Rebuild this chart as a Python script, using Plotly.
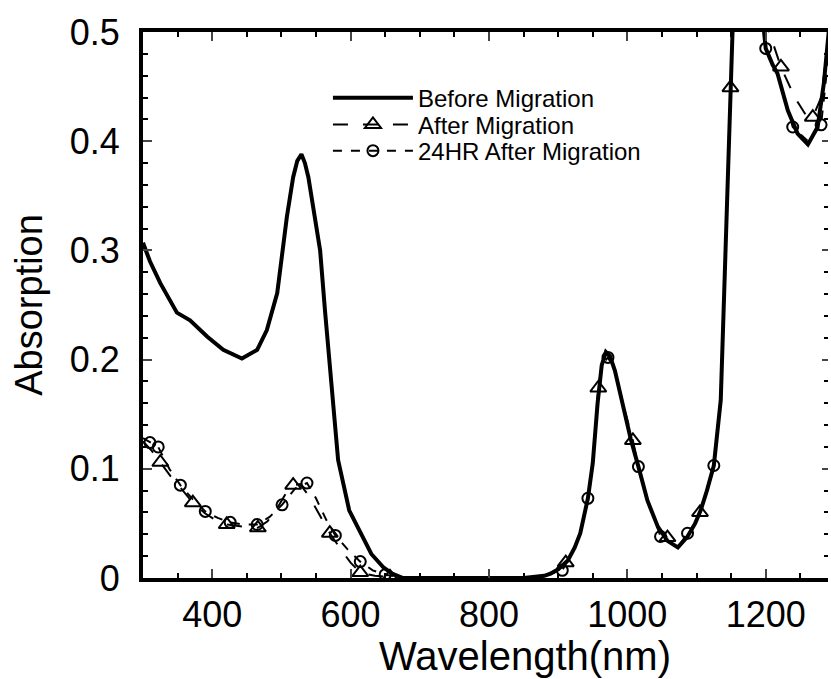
import plotly.graph_objects as go

# ---- data ----
before_x = [300, 310, 325, 349, 368, 393, 416, 443, 465, 479, 494, 508, 517, 523, 529, 534, 539, 546,
            556, 563, 574, 582, 598, 614, 630, 647, 660, 676, 700, 750, 800, 850, 880, 889, 900, 914,
            924, 932, 943, 950, 957, 963, 969, 975, 982, 990, 995, 1005, 1016, 1029, 1044, 1058, 1073,
            1087, 1098, 1106, 1115, 1125, 1135, 1144, 1149, 1152, 1162, 1175, 1188, 1197, 1200, 1210,
            1217, 1232, 1246, 1261, 1275, 1284, 1291]
before_y = [0.307, 0.290, 0.270, 0.243, 0.236, 0.221, 0.209, 0.201, 0.209, 0.227, 0.261, 0.331, 0.367,
            0.382, 0.388, 0.380, 0.367, 0.337, 0.300, 0.245, 0.169, 0.108, 0.062, 0.041, 0.022, 0.010,
            0.004, 0.0, 0.0, 0.0, 0.0, 0.0, 0.002, 0.004, 0.008, 0.016, 0.028, 0.041, 0.073, 0.105,
            0.160, 0.195, 0.207, 0.203, 0.190, 0.168, 0.154, 0.127, 0.102, 0.071, 0.047, 0.034, 0.028,
            0.038, 0.050, 0.062, 0.080, 0.103, 0.163, 0.346, 0.449, 0.500, 0.560, 0.580, 0.560, 0.500,
            0.485, 0.470, 0.462, 0.428, 0.407, 0.397, 0.413, 0.453, 0.500]

after_x = [300, 312, 325, 340, 355, 372, 390, 405, 421, 445, 466, 480, 495, 508, 517, 527, 540, 555,
           570, 585, 600, 614, 635, 657, 680, 750, 850, 880, 900, 911, 924, 932, 943, 950, 958, 963,
           969, 975, 982, 990, 1008, 1016, 1029, 1044, 1058, 1073, 1087, 1098, 1105, 1115, 1125, 1135,
           1144, 1149, 1152, 1162, 1175, 1190, 1205, 1222, 1242, 1258, 1268, 1280, 1292]
after_y = [0.125, 0.117, 0.106, 0.093, 0.082, 0.069, 0.059, 0.053, 0.049, 0.047, 0.046, 0.052, 0.065,
           0.079, 0.085, 0.086, 0.075, 0.058, 0.041, 0.027, 0.014, 0.005, 0.002, 0.001, 0.0, 0.0, 0.0,
           0.002, 0.008, 0.014, 0.028, 0.041, 0.073, 0.105, 0.174, 0.195, 0.207, 0.203, 0.190, 0.168,
           0.126, 0.102, 0.071, 0.047, 0.037, 0.028, 0.038, 0.050, 0.060, 0.080, 0.103, 0.163, 0.346,
           0.449, 0.500, 0.560, 0.580, 0.560, 0.500, 0.468, 0.440, 0.424, 0.422, 0.440, 0.500]
after_mx = [325, 372, 421, 466, 517, 570, 614, 657, 911, 958, 1008, 1058, 1105, 1149, 1222, 1268]
after_my = [0.106, 0.069, 0.049, 0.046, 0.085, 0.041, 0.005, 0.001, 0.014, 0.174, 0.126, 0.037, 0.060,
            0.449, 0.468, 0.422]

hr24_x = [300, 310, 322, 338, 354, 372, 390, 408, 426, 445, 465, 483, 501, 520, 537, 550, 565, 578,
          596, 614, 632, 650, 670, 690, 750, 850, 880, 906, 924, 932, 943, 950, 957, 963, 972, 982,
          990, 1005, 1016, 1029, 1048, 1058, 1073, 1087, 1098, 1106, 1115, 1125, 1135, 1144, 1149,
          1152, 1162, 1175, 1188, 1197, 1200, 1217, 1239, 1261, 1280, 1291]
hr24_y = [0.128, 0.124, 0.120, 0.100, 0.085, 0.072, 0.061, 0.055, 0.051, 0.049, 0.049, 0.056, 0.067,
          0.082, 0.087, 0.073, 0.053, 0.039, 0.026, 0.015, 0.007, 0.003, 0.001, 0.0, 0.0, 0.0, 0.002,
          0.007, 0.028, 0.041, 0.073, 0.105, 0.160, 0.195, 0.202, 0.190, 0.168, 0.127, 0.102, 0.071,
          0.038, 0.034, 0.028, 0.041, 0.050, 0.062, 0.080, 0.103, 0.163, 0.346, 0.449, 0.500, 0.560,
          0.580, 0.560, 0.500, 0.485, 0.462, 0.413, 0.400, 0.415, 0.480]
hr24_mx = [310, 322, 354, 390, 426, 465, 501, 537, 578, 614, 650, 906, 943, 972, 1016, 1048, 1087,
           1125, 1200, 1239, 1280]
hr24_my = [0.124, 0.120, 0.085, 0.061, 0.051, 0.049, 0.067, 0.087, 0.039, 0.015, 0.003, 0.007, 0.073,
           0.202, 0.102, 0.038, 0.041, 0.103, 0.485, 0.413, 0.415]

x_ticks = [400, 600, 800, 1000, 1200]
y_ticks = [0, 0.1, 0.2, 0.3, 0.4, 0.5]
y_ticklabels = ["0", "0.1", "0.2", "0.3", "0.4", "0.5"]

FONT = "Liberation Sans, Arial, Helvetica, sans-serif"
TRI = dict(symbol="triangle-up-open", size=14, color="black", line=dict(width=2, color="black"))
CIR = dict(symbol="circle-open", size=11, color="black", line=dict(width=2, color="black"))

fig = go.Figure()

# dashed series (drawn below the solid curve)
fig.add_trace(go.Scatter(x=after_x, y=after_y, mode="lines", showlegend=False,
                         line=dict(color="black", width=2, dash="longdash")))
fig.add_trace(go.Scatter(x=hr24_x, y=hr24_y, mode="lines", showlegend=False,
                         line=dict(color="black", width=2, dash="dash")))
fig.add_trace(go.Scatter(x=before_x, y=before_y, mode="lines", name="Before Migration",
                         legend="legend", line=dict(color="black", width=4)))
fig.add_trace(go.Scatter(x=after_mx, y=after_my, mode="markers", showlegend=False, marker=TRI))
fig.add_trace(go.Scatter(x=hr24_mx, y=hr24_my, mode="markers", showlegend=False, marker=CIR))
# legend entries
fig.add_trace(go.Scatter(x=[None], y=[None], mode="lines+markers", name="After Migration",
                         legend="legend2",
                         line=dict(color="black", width=2, dash="longdash"), marker=TRI))
fig.add_trace(go.Scatter(x=[None], y=[None], mode="lines+markers", name="24HR After Migration",
                         legend="legend3",
                         line=dict(color="black", width=2, dash="dash"), marker=CIR))
# invisible trace for right-side ticks
fig.add_trace(go.Scatter(x=[None], y=[None], yaxis="y2", showlegend=False, mode="lines"))

LEG = dict(x=0.27, xanchor="left", yanchor="middle", bgcolor="rgba(0,0,0,0)",
           font=dict(size=24, family=FONT), itemwidth=80)

fig.update_layout(
    width=831, height=679,
    margin=dict(l=143, r=3, t=32, b=101),
    paper_bgcolor="white", plot_bgcolor="white",
    font=dict(family=FONT, color="black"),
    showlegend=True,
    legend=dict(LEG, y=0.879),
    legend2=dict(LEG, y=0.830),
    legend3=dict(LEG, y=0.782),
    xaxis=dict(range=[300, 1290], tickvals=x_ticks, ticks="inside", ticklen=9, tickwidth=2,
               showline=True, linewidth=4, linecolor="black", mirror="ticks", showgrid=False,
               zeroline=False, tickfont=dict(size=36, family=FONT), ticklabelstandoff=2,
               minor=dict(dtick=50, tick0=0, ticks="inside", ticklen=5, tickwidth=2, tickcolor="black")),
    yaxis=dict(range=[0, 0.5], tickvals=y_ticks, ticktext=y_ticklabels, ticks="inside", ticklen=9,
               tickwidth=2, showline=True, linewidth=4, linecolor="black", showgrid=False,
               zeroline=False, tickfont=dict(size=36, family=FONT), ticklabelstandoff=12,
               minor=dict(dtick=0.02, tick0=0, ticks="inside", ticklen=5, tickwidth=2, tickcolor="black"),
               title=dict(text="Absorption", font=dict(size=38, family=FONT), standoff=16)),
    yaxis2=dict(range=[0, 0.5], overlaying="y", side="right", tickvals=y_ticks, ticks="inside",
                ticklen=6, tickwidth=2, showline=False, showticklabels=False, showgrid=False,
                zeroline=False,
                minor=dict(dtick=0.02, tick0=0, ticks="inside", ticklen=4, tickwidth=2, tickcolor="black")),
    annotations=[dict(text="Wavelength(nm)", x=0.557, xref="paper", y=-0.142, yref="paper",
                      xanchor="center", yanchor="middle", showarrow=False,
                      font=dict(size=40, family=FONT))],
)

fig.write_html("out.html")
